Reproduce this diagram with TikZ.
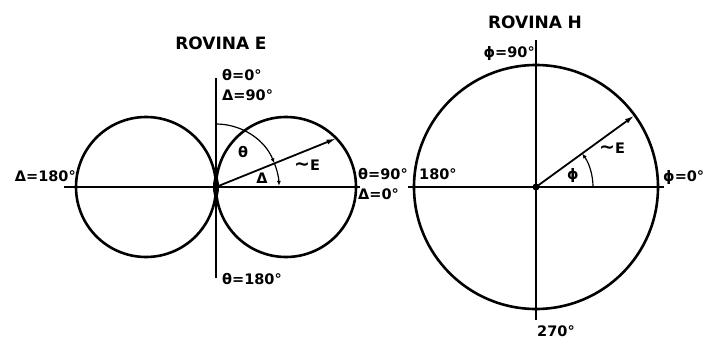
\documentclass[tikz,border=0pt]{standalone}
\usepackage{fontspec}
\setmainfont{DejaVu Sans}
\usetikzlibrary{arrows.meta,calc}
\newcommand{\bigtil}{{\fontsize{19}{19}\selectfont∼}}
\begin{document}
\begin{tikzpicture}[x=1pt,y=-1pt,
 lbl/.style={font=\bfseries\fontsize{14.5}{16}\selectfont, inner sep=0pt},
 ttl/.style={font=\bfseries\fontsize{17}{19}\selectfont, inner sep=0pt},
 curve/.style={line width=2.6pt},
 axis/.style={line width=1.4pt},
 vec/.style={line width=1.8pt,-{Latex[length=10pt,width=5pt]}},
 angarc/.style={line width=1.2pt},
 tip/.style={-{Latex[length=5pt,width=4pt]}}]
\useasboundingbox (0,0) rectangle (704,340);
% ---------- ROVINA E ----------
\coordinate (O1) at (216,187);
\draw[curve] (146,187) circle[radius=70];
\draw[curve] (286,187) circle[radius=70];
\fill (O1) ellipse[x radius=3, y radius=11];
\coordinate (A1l) at (64,187);
\coordinate (A1r) at (360,187);
\coordinate (A1t) at (216,78);
\coordinate (A1b) at (216,278);
\draw[axis] (A1l) -- (A1r);
\draw[axis] (A1t) -- (A1b);
\coordinate (E1) at ($(O1)+(-22:130)$);
\draw[vec] (O1) -- (E1);
\draw[angarc,tip] ($(O1)+(-90:63)$) arc[start angle=-90,end angle=-22,radius=63];
\draw[angarc,tip] ($(O1)+(-22:63)$) arc[start angle=-22,end angle=-1,radius=63];
\node[ttl] (t1) at (221,43) {ROVINA\,\,E};
\node[lbl,anchor=west] (l1) at (222,75) {θ=0°};
\node[lbl,anchor=west] (l2) at (222,95) {Δ=90°};
\node[lbl,anchor=east] (l3) at (76,176) {Δ=180°};
\node[lbl,anchor=west] (l4) at (222,279) {θ=180°};
\node[lbl,anchor=west] (l5) at (358,174) {θ=90°};
\node[lbl,anchor=west] (l6) at (358,194) {Δ=0°};
\node[lbl] (le1) at (307,165) {\bigtil E};
\node[lbl] (th) at (243,152) {θ};
\node[lbl] (de) at (262,178) {Δ};
% ---------- ROVINA H ----------
\coordinate (O2) at (536,187);
\draw[curve] (O2) circle[radius=122];
\coordinate (A2l) at (408,187);
\coordinate (A2r) at (664,187);
\coordinate (A2t) at (536,40);
\coordinate (A2b) at (536,320);
\draw[axis] (A2l) -- (A2r);
\draw[axis] (A2t) -- (A2b);
\fill (O2) circle[radius=3.5];
\coordinate (E2) at ($(O2)+(-36:122)$);
\draw[vec] (O2) -- (E2);
\draw[angarc,tip] ($(O2)+(0:57)$) arc[start angle=0,end angle=-36,radius=57];
\node[ttl] (t2) at (535,22) {ROVINA\,\,H};
\node[lbl,anchor=east] (m1) at (535,53) {ϕ=90°};
\node[lbl,anchor=west] (m2) at (419,174) {180°};
\node[lbl,anchor=west] (m3) at (663,177) {ϕ=0°};
\node[lbl] (m4) at (556,331) {270°};
\node[lbl] (le2) at (612,148) {\bigtil E};
\node[lbl] (ph) at (573,175) {ϕ};
\end{tikzpicture}
\end{document}
